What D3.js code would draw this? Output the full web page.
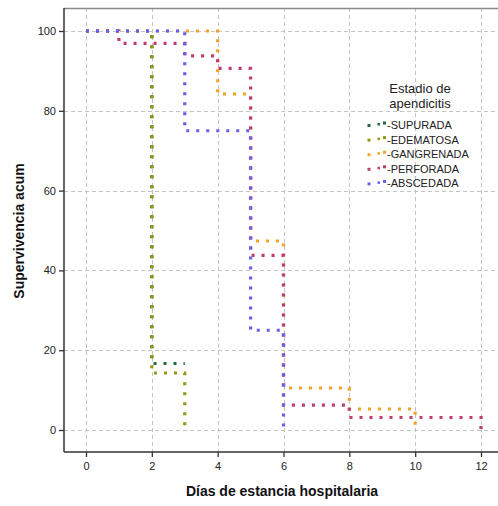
<!DOCTYPE html>
<html><head><meta charset="utf-8">
<script src="https://cdn.jsdelivr.net/npm/d3@7"></script>
<style>body{margin:0;background:#fff;}svg{display:block;font-family:Arial,"Liberation Sans",sans-serif;}</style>
</head><body>
<svg id="c" width="498" height="506"></svg>
<script>
const seriesNames = ["SUPURADA","EDEMATOSA","GANGRENADA","PERFORADA","ABSCEDADA"];
const seriesColors = ["#22683a","#929a12","#f5a22a","#c13a70","#6660f0"];
const timesSupurada = [0,2,3];
const survSupurada = [100,16.67,16.67];
const timesEdematosa = [0,2,3];
const survEdematosa = [100,14.29,0];
const timesGangrenada = [0,4,5,6,8,10];
const survGangrenada = [100,84.21,47.37,10.53,5.26,0];
const timesPerforada = [0,1,3,4,5,6,8,12];
const survPerforada = [100,96.88,93.75,90.63,43.75,6.25,3.13,0];
const timesAbscedada = [0,3,5,6];
const survAbscedada = [100,75,25,0];
const xTicks = [0,2,4,6,8,10,12];
const yTicks = [0,20,40,60,80,100];
const legendTitle = ["Estadio de","apendicitis"];
const xTitle = "Días de estancia hospitalaria";
const yTitle = "Supervivencia acum";

const allTimes = [timesSupurada,timesEdematosa,timesGangrenada,timesPerforada,timesAbscedada];
const allSurv = [survSupurada,survEdematosa,survGangrenada,survPerforada,survAbscedada];

const svg = d3.select("#c");
const L=64, R=498, T=8, B=452;
const x = d3.scaleLinear().domain([0,12]).range([86,481]);
const y = d3.scaleLinear().domain([0,100]).range([430,31]);

// grid
const grid = svg.append("g").attr("stroke","#c4c4c4").attr("stroke-dasharray","4,3").attr("stroke-width",1);
xTicks.forEach(t=>grid.append("line").attr("x1",Math.round(x(t))+0.5).attr("x2",Math.round(x(t))+0.5).attr("y1",T).attr("y2",B));
yTicks.forEach(t=>grid.append("line").attr("y1",Math.round(y(t))+0.5).attr("y2",Math.round(y(t))+0.5).attr("x1",L).attr("x2",R));

// top frame
svg.append("line").attr("x1",L).attr("x2",R).attr("y1",T+0.5).attr("y2",T+0.5).attr("stroke","#8a8a8a").attr("stroke-width",1.5);

// axes
const xAxis = svg.append("g").attr("transform",`translate(0,${B})`)
  .call(d3.axisBottom(x).tickValues(xTicks).tickSize(5).tickSizeOuter(0));
const yAxis = svg.append("g").attr("transform",`translate(${L},0)`)
  .call(d3.axisLeft(y).tickValues(yTicks).tickSize(5).tickSizeOuter(0));
[xAxis,yAxis].forEach(a=>{
  a.select(".domain").remove();
  a.selectAll("line").attr("stroke","#333").attr("stroke-width",1.3);
  a.selectAll("text").attr("fill","#222").style("font-size","11px");
});
xAxis.selectAll("text").attr("dy","0.9em");
svg.append("line").attr("x1",L).attr("x2",L).attr("y1",T).attr("y2",B).attr("stroke","#333").attr("stroke-width",1.5);
svg.append("line").attr("x1",L).attr("x2",R).attr("y1",B).attr("y2",B).attr("stroke","#333").attr("stroke-width",1.5);

// curves
const line = d3.line().x(d=>x(d[0])).y(d=>y(d[1])).curve(d3.curveStepAfter);
seriesNames.forEach((n,i)=>{
  const pts = allTimes[i].map((t,j)=>[t,allSurv[i][j]]);
  svg.append("path").attr("d",line(pts)).attr("fill","none")
    .attr("stroke",seriesColors[i]).attr("stroke-width",3.2)
    .attr("stroke-dasharray","3,7");
});

// titles
svg.append("text").attr("x",(L+R)/2+1).attr("y",496).attr("text-anchor","middle")
  .style("font-size","14px").style("font-weight","bold").attr("fill","#111").text(xTitle);
svg.append("text").attr("transform",`translate(24,${(T+B)/2+1}) rotate(-90)`).attr("text-anchor","middle")
  .style("font-size","14px").style("font-weight","bold").attr("fill","#111").text(yTitle);

// legend
const lg = svg.append("g");
legendTitle.forEach((t,i)=>lg.append("text").attr("x",420).attr("y",93+i*15).attr("text-anchor","middle")
  .style("font-size","13px").attr("fill","#222").text(t));
seriesNames.forEach((n,i)=>{
  const yy = 125 + i*14.6;
  const c = seriesColors[i];
  lg.append("rect").attr("x",367.5).attr("y",yy-1).attr("width",3).attr("height",3).attr("fill",c);
  lg.append("rect").attr("x",377.5).attr("y",yy-2).attr("width",2.5).attr("height",2.5).attr("fill",c);
  lg.append("rect").attr("x",383).attr("y",yy-3.5).attr("width",3).attr("height",3).attr("fill",c);
  lg.append("text").attr("x",387).attr("y",yy+4).style("font-size","11px").attr("fill","#222").text("-"+n);
});
</script>
</body></html>
